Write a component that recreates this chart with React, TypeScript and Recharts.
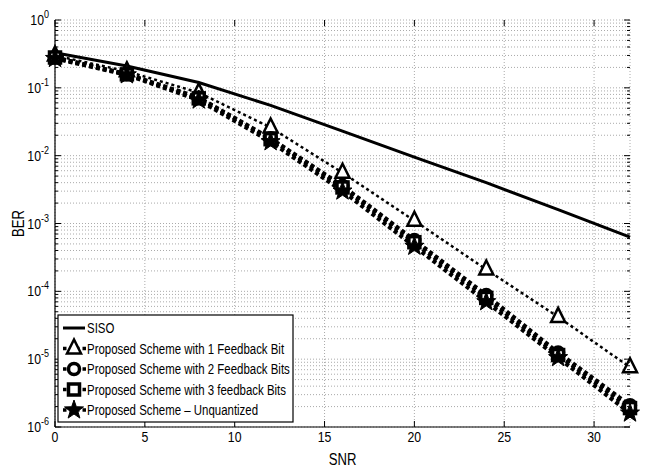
import React from "react";
import { LineChart, Line, XAxis, YAxis, CartesianGrid } from "recharts";

const snr = [0, 4, 8, 12, 16, 20, 24, 28, 32];
const siso = [0.33, 0.21, 0.12, 0.055, 0.023, 0.0095, 0.004, 0.0016, 0.00063];
const fb1 = [0.3, 0.175, 0.085, 0.026, 0.0056, 0.0011, 2.1e-4, 4.2e-5, 7.6e-6];
const fb2 = [0.28, 0.16, 0.072, 0.018, 0.0036, 5.7e-4, 8.8e-5, 1.25e-5, 2.1e-6];
const fb3 = [0.28, 0.158, 0.07, 0.0175, 0.0034, 5.3e-4, 8.0e-5, 1.15e-5, 1.9e-6];
const unq = [0.27, 0.155, 0.066, 0.016, 0.003, 4.6e-4, 7.0e-5, 1.05e-5, 1.6e-6];

const xTicks = [0, 5, 10, 15, 20, 25, 30];
const yTicks: number[] = [];
for (let e = -6; e <= 0; e++) {
  for (let m = 1; m <= 9; m++) {
    const v = m * Math.pow(10, e);
    if (v <= 1.0000001) yTicks.push(v);
  }
}

const legendNames = [
  "SISO",
  "Proposed Scheme with 1 Feedback Bit",
  "Proposed Scheme with 2 Feedback Bits",
  "Proposed Scheme with 3 feedback Bits",
  "Proposed Scheme \u2013 Unquantized",
];

const data = snr.map((s, i) => ({
  snr: s,
  siso: siso[i],
  fb1: fb1[i],
  fb2: fb2[i],
  fb3: fb3[i],
  unq: unq[i],
}));

const FONT = "'Liberation Sans', Arial, sans-serif";
const W = 662;
const H = 469;
const M = { top: 20, right: 32, left: 0, bottom: 0 };
const Y_W = 55;
const X_H = 42;
const PL = M.left + Y_W;
const PR = W - M.right;
const PT = M.top;
const PB = H - X_H;

// narrow text, like Helvetica Narrow in the original figure
const NText = ({ x, y, size, anchor, rotate, narrow = 0.82, children }: any) => (
  <text
    transform={`translate(${x},${y})${rotate ? ` rotate(${rotate})` : ""} scale(${narrow},1)`}
    textAnchor={anchor || "start"}
    fontFamily={FONT}
    fontSize={size}
    fill="#000"
  >
    {children}
  </text>
);

const Triangle = ({ cx, cy }: { cx: number; cy: number }) => (
  <polygon
    points={`${cx},${cy - 9} ${cx - 7},${cy + 5} ${cx + 7},${cy + 5}`}
    fill="#fff"
    stroke="#000"
    strokeWidth={2.5}
  />
);
const Circle = ({ cx, cy }: { cx: number; cy: number }) => (
  <circle cx={cx} cy={cy} r={5.5} fill="#fff" stroke="#000" strokeWidth={3.5} />
);
const Square = ({ cx, cy }: { cx: number; cy: number }) => (
  <rect x={cx - 5.5} y={cy - 5.5} width={11} height={11} fill="#fff" stroke="#000" strokeWidth={3.5} />
);
const Star = ({ cx, cy }: { cx: number; cy: number }) => {
  const pts: string[] = [];
  for (let i = 0; i < 10; i++) {
    const r = i % 2 === 0 ? 10 : 4;
    const a = -Math.PI / 2 + (i * Math.PI) / 5;
    pts.push(`${cx + r * Math.cos(a)},${cy + r * Math.sin(a)}`);
  }
  return <polygon points={pts.join(" ")} fill="#000" stroke="#000" strokeWidth={1} />;
};

const markers = [null, Triangle, Circle, Square, Star];

const YTick = (props: any) => {
  const v = props.payload.value;
  const y = props.payload.coordinate;
  const lg = Math.log10(v);
  const major = Math.abs(lg - Math.round(lg)) < 1e-6;
  const len = major ? 6 : 3;
  return (
    <g>
      <line x1={PL} x2={PL + len} y1={y} y2={y} stroke="#000" />
      <line x1={PR - len} x2={PR} y1={y} y2={y} stroke="#000" />
      {major && (
        <NText x={49} y={y + 5} size={15} anchor="end">
          10
          <tspan dy={-7} fontSize={11}>
            {Math.round(lg)}
          </tspan>
        </NText>
      )}
    </g>
  );
};

const XTick = (props: any) => {
  const x = props.payload.coordinate;
  return (
    <g>
      <line x1={x} x2={x} y1={PB} y2={PB - 6} stroke="#000" />
      <line x1={x} x2={x} y1={PT} y2={PT + 6} stroke="#000" />
      <NText x={x} y={PB + 15} size={15} anchor="middle">
        {props.payload.value}
      </NText>
    </g>
  );
};

function Legend() {
  const rowH = 20.5;
  return (
    <svg width={238} height={109} style={{ position: "absolute", left: 57, top: 314 }}>
      <rect x={1} y={1} width={235} height={107} fill="#fff" stroke="#000" strokeWidth={1.2} />
      {legendNames.map((name, i) => {
        const cy = 14 + i * rowH;
        const Mk = markers[i];
        return (
          <g key={name}>
            {i === 0 ? (
              <line x1={6} x2={28} y1={cy} y2={cy} stroke="#000" strokeWidth={3} />
            ) : (
              <line
                x1={6}
                x2={30}
                y1={cy}
                y2={cy}
                stroke="#000"
                strokeWidth={3.5}
                strokeDasharray="3.5 3"
              />
            )}
            {Mk && <Mk cx={17} cy={cy} />}
            <NText x={30} y={cy + 5} size={14.5} narrow={0.79}>
              {name}
            </NText>
          </g>
        );
      })}
    </svg>
  );
}

export default function App() {
  const series = [
    { key: "siso", dash: undefined, width: 3 },
    { key: "fb1", dash: "3 3", width: 2.5 },
    { key: "fb2", dash: "4 3", width: 4 },
    { key: "fb3", dash: "4 3", width: 4 },
    { key: "unq", dash: "4 3", width: 4 },
  ];
  return (
    <div style={{ position: "absolute", left: 0, top: 0, width: W, height: H, background: "#fff" }}>
      <LineChart width={W} height={H} data={data} margin={M}>
        <CartesianGrid stroke="#aaa" strokeDasharray="1 2" strokeWidth={1} />
        <XAxis
          dataKey="snr"
          type="number"
          domain={[0, 32]}
          ticks={xTicks}
          height={X_H}
          tickLine={false}
          axisLine={{ stroke: "#000", strokeWidth: 1.2 }}
          tick={XTick}
          interval={0}
          label={{
            position: "insideBottom",
            content: () => (
              <NText x={(PL + PR) / 2} y={H - 4} size={16} anchor="middle">
                SNR
              </NText>
            ),
          }}
        />
        <XAxis
          xAxisId="top"
          orientation="top"
          type="number"
          domain={[0, 32]}
          height={0}
          tick={false}
          tickLine={false}
          axisLine={{ stroke: "#000", strokeWidth: 1.2 }}
        />
        <YAxis
          type="number"
          scale="log"
          domain={[1e-6, 1]}
          allowDataOverflow
          ticks={yTicks}
          interval={0}
          width={Y_W}
          tickLine={false}
          axisLine={{ stroke: "#000", strokeWidth: 1.2 }}
          tick={YTick}
          label={{
            position: "insideLeft",
            content: () => (
              <NText x={24} y={(PT + PB) / 2} size={16} anchor="middle" rotate={-90}>
                BER
              </NText>
            ),
          }}
        />
        <YAxis
          yAxisId="right"
          orientation="right"
          type="number"
          domain={[0, 1]}
          width={0}
          tick={false}
          tickLine={false}
          axisLine={{ stroke: "#000", strokeWidth: 1.2 }}
        />
        {series.map((s, i) => {
          const Mk = markers[i];
          return (
            <Line
              key={s.key}
              dataKey={s.key}
              type="linear"
              stroke="#000"
              strokeWidth={s.width}
              strokeDasharray={s.dash}
              isAnimationActive={false}
              dot={
                Mk
                  ? (p: any) => <Mk key={`${s.key}-${p.index}`} cx={p.cx} cy={p.cy} />
                  : false
              }
              activeDot={false}
            />
          );
        })}
      </LineChart>
      <Legend />
    </div>
  );
}
